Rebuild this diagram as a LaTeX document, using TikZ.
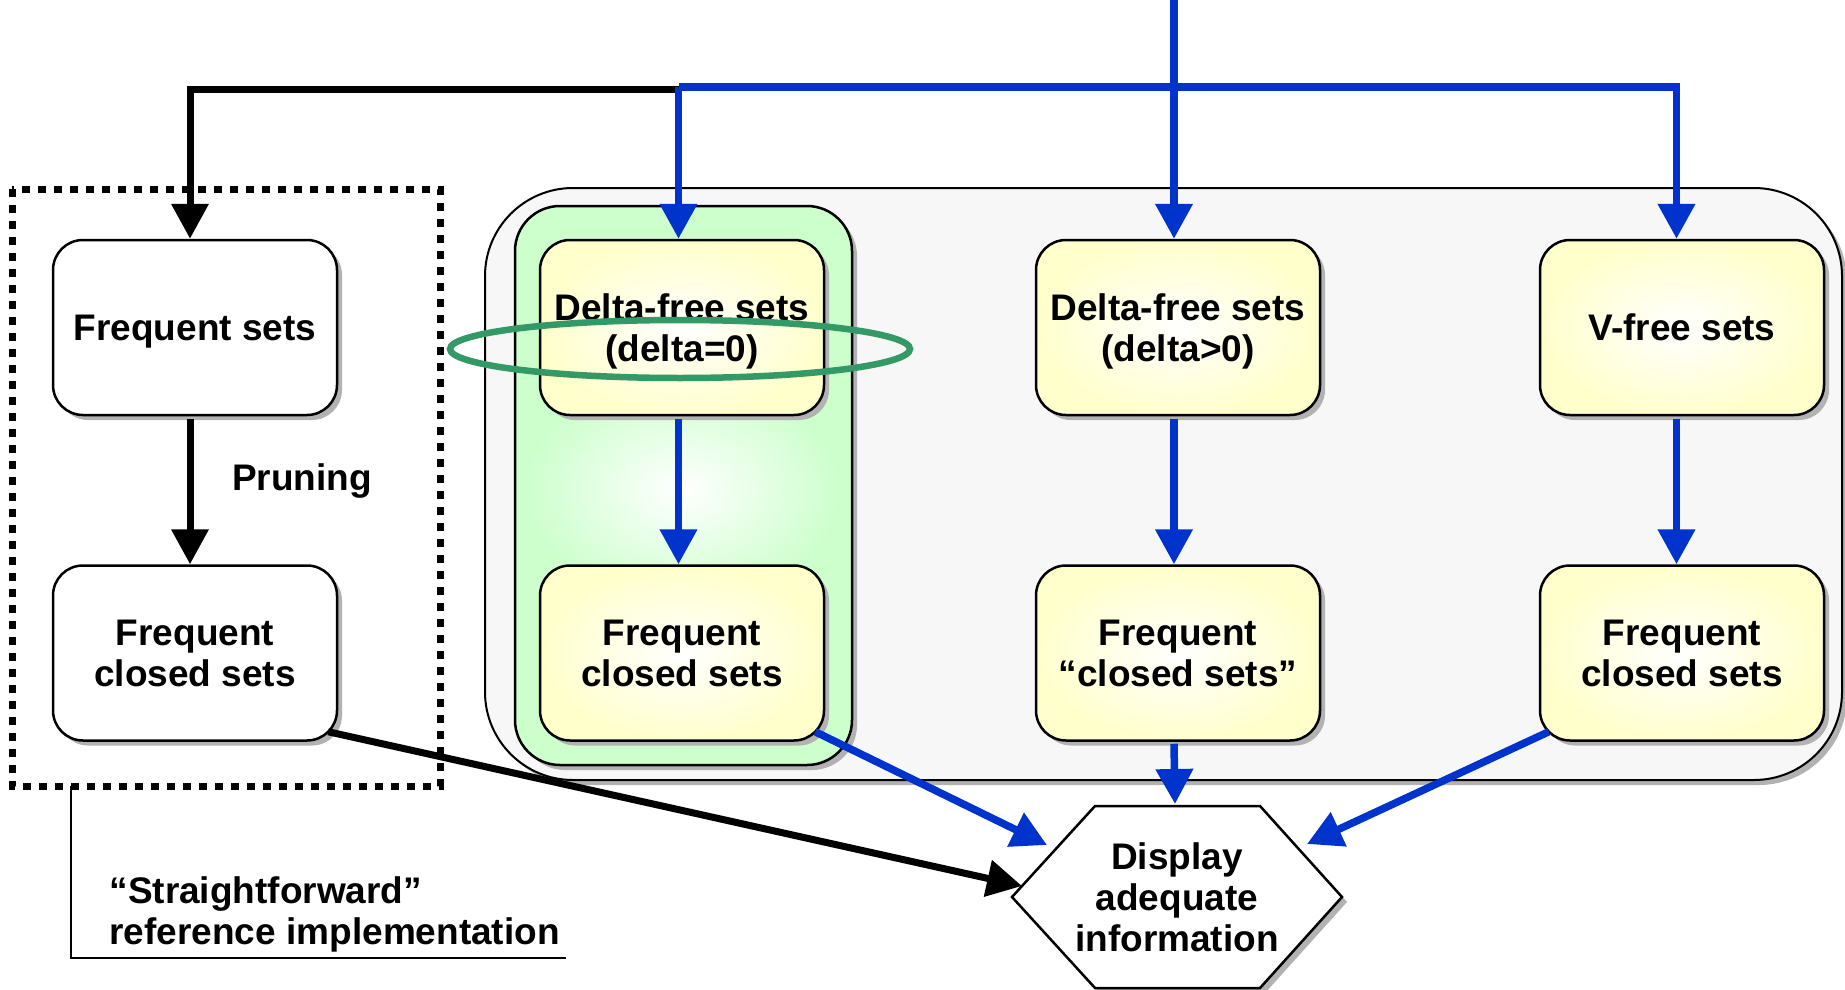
\documentclass[tikz,border=0pt]{standalone}
\usepackage{fontspec}
\setmainfont{Liberation Sans}
\usetikzlibrary{arrows.meta,shadows,calc,shapes.geometric}
\definecolor{yel}{HTML}{FFFFCC}
\definecolor{grn}{HTML}{CCFFCC}
\definecolor{blu}{RGB}{0,51,204}
\definecolor{elg}{HTML}{339966}
\definecolor{cont}{HTML}{F7F7F7}
\begin{document}
\begin{tikzpicture}[x=1pt,y=-1pt,
  every node/.style={font=\fontsize{37}{41}\selectfont\bfseries, align=center},
  shad/.style={drop shadow={shadow xshift=5pt, shadow yshift=-5pt, fill=black!30, opacity=1}},
  box/.style={draw, line width=2.5pt, rounded corners=30pt, minimum width=284pt, minimum height=175pt, inner sep=0pt, shad,
    execute at begin node={\rule{0pt}{34pt}}},
  one/.style={text depth=8pt},
  two/.style={text depth=0pt},
  wbox/.style={box, fill=white},
  ybox/.style={box, inner color=white, outer color=yel},
  barrow/.style={draw=black, line width=7pt, -{Triangle[length=35pt,width=36pt]}},
  larrow/.style={draw=blu, line width=7.5pt, -{Triangle[length=35pt,width=36pt]}},
]
\useasboundingbox (0,0) rectangle (1845,990);

% groups
\node[draw, line width=2pt, rounded corners=88pt, fill=cont, shad, minimum width=1357pt, minimum height=592pt] (grp) at (1163.5,484) {};
\node[draw, line width=2.5pt, rounded corners=45pt, fill=grn, shad, minimum width=337pt, minimum height=559pt] (grpg) at (683.5,485.5) {};
\shade[inner color=white, outer color=grn] (682,490) ellipse [x radius=160pt, y radius=115pt];
\draw[line width=7pt, dash pattern=on 8pt off 8pt] (12,189) rectangle (440,786);

% boxes
\node[wbox, one] (fs) at (195,327.5) {Frequent sets};
\node[wbox, two] (fcs) at (195,653) {Frequent\\closed sets};
\node[ybox, two] (d0) at (682,327.5) {Delta-free sets\\(delta=0)};
\node[ybox, two] (fcs0) at (682,653) {Frequent\\closed sets};
\node[ybox, two] (dp) at (1178,327.5) {Delta-free sets\\(delta>0)};
\node[ybox, two] (fcsp) at (1178,653) {Frequent\\“closed sets”};
\node[ybox, one] (vf) at (1682,327.5) {V-free sets};
\node[ybox, two] (fcsv) at (1682,653) {Frequent\\closed sets};

% highlight ellipse
\node[draw=elg, line width=6.5pt, ellipse, minimum width=460pt, minimum height=58pt, inner sep=0pt] (hl) at (680,349) {};

% hexagon
\draw[line width=2.5pt, fill=white, shad] (1012,897) -- (1095,806) -- (1260,806) -- (1342,897) -- (1260,988) -- (1095,988) -- cycle;
\node (disp) at (1177,897) {Display\\adequate\\information};
\coordinate (hexT) at (1175,804);
\coordinate (hexUL) at (1047,845);
\coordinate (hexUR) at (1307,844);
\coordinate (hexL) at (1022,886);

% labels
\node[anchor=base] (prun) at (302,490) {Pruning};
\node[align=left, anchor=west] (lbl) at (106,914) {“Straightforward”\\reference implementation};
\coordinate (b1) at (71,786);
\coordinate (b2) at (71,958);
\coordinate (b3) at (566,958);
\draw[line width=2.5pt] (b1) -- (b2) -- (b3);

% column axes of the connectors
\coordinate (c1) at (190,0);
\coordinate (c2) at (678.5,0);
\coordinate (c3) at (1174,0);
\coordinate (c4) at (1676.5,0);
\coordinate (hjoinb) at (678.5,89.5);
\coordinate (hjoin) at (678.5,87);

% connectors
\draw[barrow] (hjoinb) -| (c1 |- fs.north);
\draw[larrow] (hjoin) -| (c4 |- vf.north);
\draw[larrow] (hjoin) -- (c2 |- d0.north);
\draw[larrow] (c3) -- (c3 |- dp.north);
\draw[barrow] ($(c1 |- fs.south)+(0,3)$) -- (c1 |- fcs.north);
\draw[larrow] ($(c2 |- d0.south)+(0,3)$) -- (c2 |- fcs0.north);
\draw[larrow] ($(c3 |- dp.south)+(0,3)$) -- (c3 |- fcsp.north);
\draw[larrow] ($(c4 |- vf.south)+(0,3)$) -- (c4 |- fcsv.north);
\draw[larrow] ($(c3 |- fcsp.south)+(0,2)$) -- (hexT);
\draw[larrow] ($(fcs0.south east)+(-10,-10)$) -- (hexUL);
\draw[larrow] ($(fcsv.south west)+(10,-10)$) -- (hexUR);
\draw[barrow] ($(fcs.south east)+(-10,-10)$) -- (hexL);
\end{tikzpicture}
\end{document}
